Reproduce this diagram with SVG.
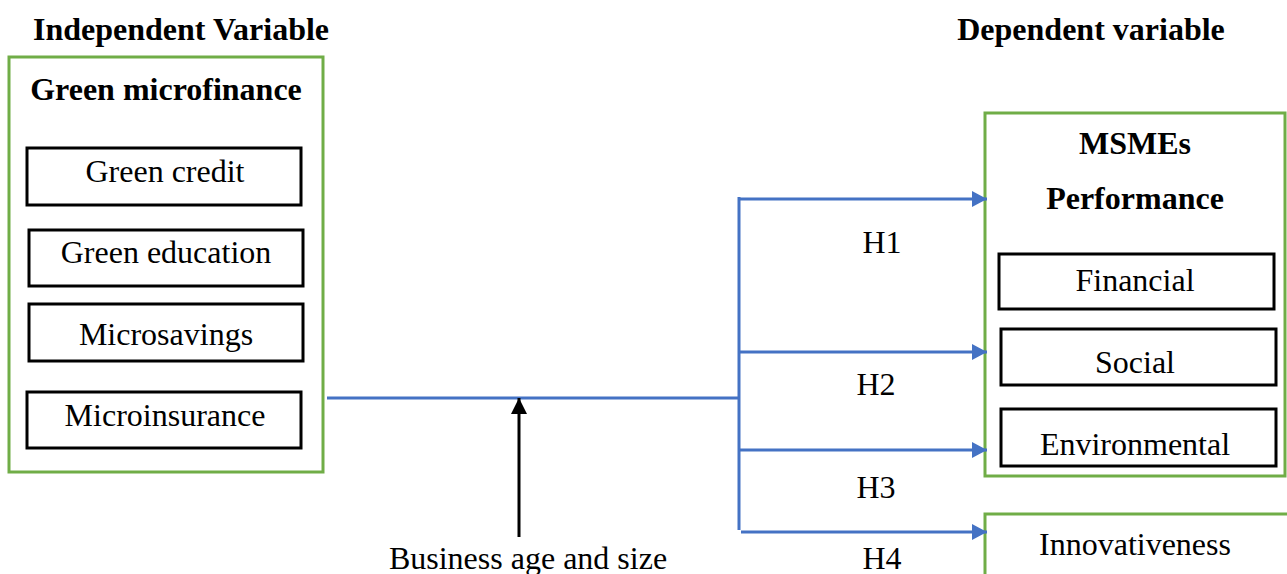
<svg xmlns="http://www.w3.org/2000/svg" width="1287" height="574" viewBox="0 0 1287 574">
<style>
text{font-family:"Liberation Serif","Times New Roman",serif;fill:#000;text-anchor:middle}
.t{font-size:32px}
.b{font-size:32px;font-weight:bold}
.g{fill:#fff;stroke:#70AD47;stroke-width:3}
.k{fill:#fff;stroke:#000;stroke-width:3}
.c{fill:none;stroke:#4472C4;stroke-width:3}
</style>
<defs>
<marker id="ab" viewBox="0 0 15 16" refX="15" refY="8" markerWidth="15" markerHeight="16" markerUnits="userSpaceOnUse" orient="auto"><path d="M0,0 L15,8 L0,16 Z" fill="#4472C4"/></marker>
<marker id="ak" viewBox="0 0 16 16" refX="16" refY="8" markerWidth="16" markerHeight="16" markerUnits="userSpaceOnUse" orient="auto"><path d="M0,0 L16,8 L0,16 Z" fill="#000"/></marker>
</defs>
<text class="b" x="181" y="40">Independent Variable</text>
<text class="b" x="1091" y="40">Dependent variable</text>
<g id="green-microfinance">
<rect class="g" x="9" y="57" width="314" height="415"/>
<text class="b" x="166" y="100">Green microfinance</text>
</g>
<g id="green-credit"><rect class="k" x="27" y="148" width="274" height="57"/><text class="t" x="165" y="182">Green credit</text></g>
<g id="green-education"><rect class="k" x="29" y="230" width="274" height="56"/><text class="t" x="166" y="263">Green education</text></g>
<g id="microsavings"><rect class="k" x="29" y="304" width="274" height="57"/><text class="t" x="166" y="345">Microsavings</text></g>
<g id="microinsurance"><rect class="k" x="27" y="392" width="274" height="56"/><text class="t" x="165" y="426">Microinsurance</text></g>
<g id="msmes-performance">
<rect class="g" x="985" y="113" width="300" height="363"/>
<text class="b" x="1135" y="154">MSMEs</text>
<text class="b" x="1135" y="209">Performance</text>
</g>
<g id="financial"><rect class="k" x="999" y="254" width="275" height="55"/><text class="t" x="1135" y="291">Financial</text></g>
<g id="social"><rect class="k" x="1001" y="329" width="275" height="56"/><text class="t" x="1135" y="373">Social</text></g>
<g id="environmental"><rect class="k" x="1001" y="409" width="275" height="57"/><text class="t" x="1135" y="455">Environmental</text></g>
<g id="innovativeness"><rect class="g" x="985" y="514" width="304" height="70"/><text class="t" x="1135" y="555">Innovativeness</text></g>
<g id="connectors">
<path class="c" d="M327,398 H739"/>
<path class="c" d="M739,197 V530"/>
<path class="c" d="M739,199 H987" marker-end="url(#ab)"/>
<path class="c" d="M739,352 H987" marker-end="url(#ab)"/>
<path class="c" d="M739,450 H987" marker-end="url(#ab)"/>
<path class="c" d="M741,532 H987" marker-end="url(#ab)"/>
<path d="M519,537 V398" stroke="#000" stroke-width="3" fill="none" marker-end="url(#ak)"/>
</g>
<text class="t" x="882" y="253">H1</text>
<text class="t" x="876" y="395">H2</text>
<text class="t" x="876" y="498">H3</text>
<text class="t" x="882" y="569">H4</text>
<text class="t" x="528" y="569">Business age and size</text>
</svg>
